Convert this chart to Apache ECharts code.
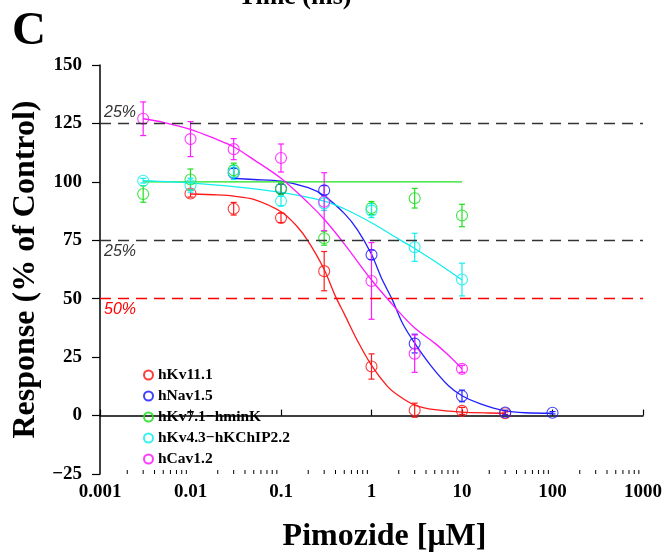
<!DOCTYPE html>
<html>
<head>
<meta charset="utf-8">
<script src="https://cdn.jsdelivr.net/npm/echarts@6/dist/echarts.min.js"></script>
<style>
html,body{margin:0;padding:0;background:#fff;}
#chart{width:667px;height:558px;}
</style>
</head>
<body>
<div id="chart"></div>
<script>
// ---- data ----
const seriesNames = ['hKv11.1', 'hNav1.5', 'hKv7.1\u2212hminK', 'hKv4.3\u2212hKChIP2.2', 'hCav1.2'];
const seriesColors = ['#ff1a1a', '#2020ff', '#1ee01e', '#12eeee', '#ff1aff'];

const kv111X = [0.01, 0.03, 0.1, 0.3, 1, 3, 10, 30];
const kv111Y = [95, 88.5, 84.6, 61.8, 21, 2.3, 2, 1];
const kv111E = [1.5, 2.7, 2, 8.4, 5.4, 3, 1.5, 0.5];

const nav15X = [0.03, 0.1, 0.3, 1, 3, 10, 30, 100];
const nav15Y = [103.8, 97, 96.4, 68.8, 30.8, 8.4, 1.3, 1.2];
const nav15E = [2, 2, 2, 2, 4, 2.5, 1, 0.5];

const kv71X = [0.003, 0.01, 0.03, 0.1, 0.3, 1, 3, 10];
const kv71Y = [94.8, 101, 105, 97, 75.9, 88.8, 93, 85.6];
const kv71E = [3.5, 4.5, 3, 2.5, 3, 2.8, 4.2, 4.8];

const kv43X = [0.003, 0.01, 0.03, 0.1, 0.3, 1, 3, 10];
const kv43Y = [100.5, 98.6, 104, 91.8, 90.8, 87.7, 72, 58.2];
const kv43E = [1, 3, 3, 2, 3, 3, 6, 7];

const cav12X = [0.003, 0.01, 0.03, 0.1, 0.3, 1, 3, 10];
const cav12Y = [127, 118.3, 114, 110.2, 91.5, 57.6, 26.5, 20];
const cav12E = [7.2, 7.5, 4.5, 6, 12.4, 16.4, 8, 1.5];

// fitted curves
const kv111FitX = [0.01, 0.02, 0.03, 0.05, 0.1, 0.15, 0.2, 0.3, 0.4, 0.5, 0.7, 1, 1.5, 2, 3, 5, 10, 20, 30];
const kv111FitY = [94.8, 94.4, 93.9, 92.5, 87.2, 81, 74.5, 62.5, 51, 43.5, 32, 21.5, 12.5, 8.5, 4.5, 2.5, 1.5, 1.1, 1];
const nav15FitX = [0.03, 0.05, 0.1, 0.2, 0.3, 0.5, 0.7, 1, 1.3, 1.7, 2.2, 3, 4.5, 7, 10, 16, 30, 50, 100];
const nav15FitY = [101.5, 101, 100.3, 97.5, 94, 86.5, 79.5, 69, 58.5, 49.5, 39.5, 31, 21.5, 13, 8.5, 5, 2, 1.2, 1];
const kv71FitX = [0.003, 10];
const kv71FitY = [100, 100];
const kv43FitX = [0.003, 0.01, 0.03, 0.1, 0.3, 0.5, 1, 2, 3, 5, 10];
const kv43FitY = [100.5, 99.5, 98, 95.5, 91.8, 88.5, 82.5, 75.5, 71.5, 66, 58];
const cav12FitX = [0.003, 0.005, 0.01, 0.02, 0.03, 0.05, 0.1, 0.2, 0.3, 0.5, 1, 2, 3, 5, 7, 10];
const cav12FitY = [127, 125.5, 122.5, 118, 115, 109.5, 101.5, 91, 84, 73.5, 58, 44.5, 37.5, 31, 26, 20];

const refLineValues = [125, 75, 50];
const refLineLabels = ['25%', '25%', '50%'];

const xTickValues = [0.001, 0.01, 0.1, 1, 10, 100, 1000];
const xTickLabels = ['0.001', '0.01', '0.1', '1', '10', '100', '1000'];
const yTickLabels = ['\u221225', '0', '25', '50', '75', '100', '125', '150'];

// ---- build ----
const pts = [
  [kv111X, kv111Y, kv111E, kv111FitX, kv111FitY],
  [nav15X, nav15Y, nav15E, nav15FitX, nav15FitY],
  [kv71X, kv71Y, kv71E, kv71FitX, kv71FitY],
  [kv43X, kv43Y, kv43E, kv43FitX, kv43FitY],
  [cav12X, cav12Y, cav12E, cav12FitX, cav12FitY]
];
const zip = (a, b) => a.map((v, i) => [v, b[i]]);
const zip3 = (a, b, c) => a.map((v, i) => [v, b[i], c[i]]);

// minor tick positions on the log axis
const minorTicks = [];
for (let d = 0; d < xTickValues.length - 1; d++) {
  for (let m = 2; m <= 9; m++) minorTicks.push([+(xTickValues[d] * m).toPrecision(3)]);
}

const SERIF = '"Liberation Serif", "Times New Roman", serif';
const series = [];

pts.forEach((p, i) => {
  series.push({
    name: seriesNames[i] + ' fit', type: 'line', data: zip(p[3], p[4]),
    smooth: 0.3, symbol: 'none', lineStyle: { color: seriesColors[i], width: 1.3 },
    z: 2, silent: true
  });
});
pts.forEach((p, i) => {
  series.push({
    name: seriesNames[i] + ' err', type: 'custom', data: zip3(p[0], p[1], p[2]),
    z: 3, silent: true,
    renderItem: function (params, api) {
      const x = api.value(0), y = api.value(1), e = api.value(2);
      const t = api.coord([x, y + e]), b = api.coord([x, y - e]);
      const w = 3;
      const st = { stroke: seriesColors[i], lineWidth: 1.2 };
      return { type: 'group', children: [
        { type: 'line', shape: { x1: t[0], y1: t[1], x2: b[0], y2: b[1] }, style: st },
        { type: 'line', shape: { x1: t[0] - w, y1: t[1], x2: t[0] + w, y2: t[1] }, style: st },
        { type: 'line', shape: { x1: b[0] - w, y1: b[1], x2: b[0] + w, y2: b[1] }, style: st }
      ]};
    }
  });
});
pts.forEach((p, i) => {
  series.push({
    name: seriesNames[i], type: 'scatter', data: zip(p[0], p[1]),
    symbol: 'circle', symbolSize: 11,
    itemStyle: { color: 'rgba(255,255,255,0)', borderColor: seriesColors[i], borderWidth: 1.1, opacity: 0.85 },
    z: 4
  });
});
// reference lines
series.push({
  name: 'refs', type: 'line', data: [], silent: true,
  markLine: {
    symbol: ['none', 'none'], silent: true, animation: false,
    data: refLineValues.map((v, i) => ({
      yAxis: v,
      lineStyle: { color: i === 2 ? '#ff0000' : '#333333', type: [11, 7], width: 1.3 },
      label: {
        formatter: refLineLabels[i],
        position: i === 0 ? 'insideStartTop' : 'insideStartBottom',
        distance: [4, 3],
        color: i === 2 ? '#ff0000' : '#333333',
        fontStyle: 'italic', fontSize: 16, fontFamily: '"Liberation Sans", Arial, sans-serif'
      }
    }))
  }
});
// minor ticks on x axis
series.push({
  name: 'minor', type: 'custom', data: minorTicks, silent: true, clip: false, z: 5,
  renderItem: function (params, api) {
    const c = api.coord([api.value(0), -25]);
    return { type: 'line', shape: { x1: c[0], y1: c[1], x2: c[0], y2: c[1] - 4 }, style: { stroke: '#000', lineWidth: 1 } };
  }
});

const chart = echarts.init(document.getElementById('chart'), null, { renderer: 'canvas' });
chart.setOption({
  animation: false,
  backgroundColor: '#ffffff',
  grid: { left: 100, right: 24, top: 65, bottom: 78, containLabel: false },
  xAxis: {
    type: 'log', logBase: 10, min: 0.001, max: 1000,
    name: 'Pimozide [\u03bcM]', nameLocation: 'middle', nameGap: 47,
    nameTextStyle: { fontFamily: SERIF, fontWeight: 'bold', fontSize: 32, color: '#000', padding: [0, 0, 0, 26] },
    axisLine: { lineStyle: { color: '#000', width: 1.5 } },
    axisTick: { inside: true, length: 6, lineStyle: { color: '#000', width: 1.2 } },
    axisLabel: {
      margin: 9, color: '#000', fontFamily: SERIF, fontWeight: 'bold', fontSize: 19,
      formatter: function (v) { const k = xTickValues.findIndex(t => Math.abs(Math.log10(t) - Math.log10(v)) < 1e-6); return k >= 0 ? xTickLabels[k] : ''; }
    },
    splitLine: { show: false }
  },
  yAxis: {
    type: 'value', min: -25, max: 150, interval: 25,
    name: 'Response (% of Control)', nameLocation: 'middle', nameGap: 58,
    nameTextStyle: { fontFamily: SERIF, fontWeight: 'bold', fontSize: 32, color: '#000' },
    axisLine: { show: true, lineStyle: { color: '#000', width: 1.5 } },
    axisTick: { show: true, inside: false, length: 8, lineStyle: { color: '#000', width: 1.2 } },
    axisLabel: {
      margin: 18, color: '#000', fontFamily: SERIF, fontWeight: 'bold', fontSize: 19,
      formatter: function (v) { return yTickLabels[Math.round((v + 25) / 25)]; }
    },
    splitLine: { show: false }
  },
  legend: {
    data: seriesNames.map(n => ({ name: n })),
    orient: 'vertical', left: 138, top: 362, itemGap: 5,
    itemWidth: 9, itemHeight: 9, icon: 'circle',
    textStyle: { fontFamily: SERIF, fontWeight: 'bold', fontSize: 15.5, color: '#000' },
    selectedMode: false
  },
  graphic: [
    { type: 'text', left: 12, top: 8, style: { text: 'C', font: 'bold 47px ' + SERIF, fill: '#000' } },
    { type: 'text', x: 295, y: 10, style: { text: 'Time (ms)', font: 'bold 26px ' + SERIF, fill: '#000', textAlign: 'center', textVerticalAlign: 'bottom' } }
  ],
  series: series
});
</script>
</body>
</html>
